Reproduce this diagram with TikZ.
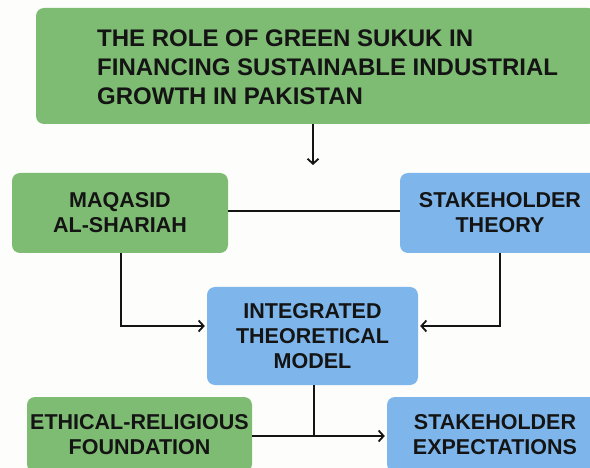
\documentclass[tikz,border=0pt]{standalone}
\usepackage{fontspec}
\setmainfont{Liberation Sans}
\usetikzlibrary{arrows.meta}
\definecolor{boxgreen}{RGB}{127,188,115}
\definecolor{boxblue}{RGB}{126,182,236}
\definecolor{ink}{RGB}{20,20,20}
\definecolor{paper}{RGB}{253,253,251}
\begin{document}
\begin{tikzpicture}[x=1pt,y=-1pt,
  box/.style={rounded corners=8pt, draw=none, align=center, inner sep=0pt,
    font=\fontsize{21.5}{25}\selectfont\bfseries, text=ink},
  gbox/.style={box, fill=boxgreen},
  bbox/.style={box, fill=boxblue},
  link/.style={draw=ink, line width=1.8pt},
  arr/.style={link, -{Straight Barb[length=5pt,width=11pt,line width=1.8pt]}}]
  % canvas and clipping frame
  \fill[paper] (0,0) rectangle (590,468);
  \clip (0,0) rectangle (590,468);

  % title box
  \node[gbox, minimum width=560pt, minimum height=116pt] (title) at (316,66) {};
  \node[anchor=west, align=left, inner sep=0pt, text=ink,
    font=\fontsize{24}{29}\selectfont\bfseries] (titletext) at (97,67)
    {THE ROLE OF GREEN SUKUK IN\\FINANCING SUSTAINABLE INDUSTRIAL\\GROWTH IN PAKISTAN};

  % theory boxes
  \node[gbox, minimum width=216pt, minimum height=80pt] (maqasid) at (120,213) {MAQASID\\AL-SHARIAH};
  \node[bbox, minimum width=200pt, minimum height=80pt] (stake) at (500,213) {STAKEHOLDER\\THEORY};
  \node[bbox, minimum width=211pt, minimum height=98pt] (model) at (312.5,336) {INTEGRATED\\THEORETICAL\\MODEL};

  % outcome boxes
  \node[gbox, minimum width=225pt, minimum height=75pt] (ethic) at (139.5,434.5) {ETHICAL-RELIGIOUS\\FOUNDATION};
  \node[bbox, minimum width=216pt, minimum height=75pt] (expect) at (495,434.5) {STAKEHOLDER\\EXPECTATIONS};

  % connectors
  \coordinate (titleend) at (313,165);
  \draw[arr] ([xshift=-3pt]title.south) -- (titleend);
  \draw[link] (maqasid.east |- 0,211) -- (stake.west |- 0,211);
  \draw[arr] ([xshift=1pt]maqasid.south) |- ([xshift=-2pt,yshift=10pt]model.west);
  \draw[arr] (stake.south) |- ([xshift=2pt,yshift=10pt]model.east);
  \coordinate (junction) at (model.south |- 0,436);
  \draw[link] ([xshift=1.5pt]model.south) -- ([xshift=1.5pt]junction);
  \draw[arr] (ethic.east |- 0,436) -- ([xshift=-2pt]expect.west |- 0,436);
\end{tikzpicture}
\end{document}
